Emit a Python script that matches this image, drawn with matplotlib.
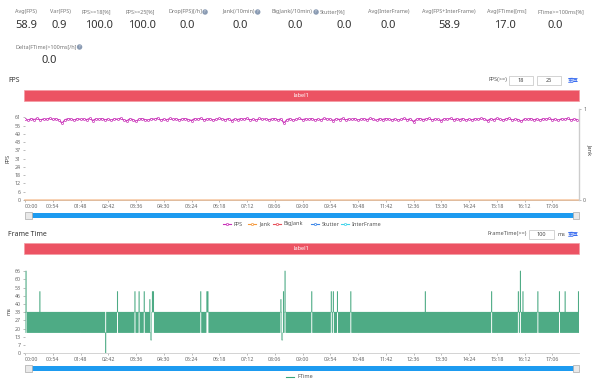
import numpy as np
import matplotlib.pyplot as plt
from matplotlib.patches import Rectangle
from matplotlib.lines import Line2D

plt.rcParams['font.family'] = ['Noto Sans', 'Noto Sans CJK SC', 'DejaVu Sans']

W, H = 600, 385

# summary numbers on top
stat_names = ["Avg(FPS)", "Var(FPS)", "FPS>=18[%]", "FPS>=25[%]", "Drop(FPS)[/h]",
              "Jank(/10min)", "BigJank(/10min)", "Stutter[%]", "Avg(InterFrame)",
              "Avg(FPS+InterFrame)", "Avg(FTime)[ms]", "FTime>=100ms[%]",
              "Delta(FTime)>100ms[/h]"]
stat_values = ["58.9", "0.9", "100.0", "100.0", "0.0", "0.0", "0.0", "0.0", "0.0",
               "58.9", "17.0", "0.0", "0.0"]
stat_help = [False, False, False, False, True, True, True, False, False,
             False, False, False, True]

# FPS, one reading every 6 s
fps_step = 6
fps_values = [
    59.6, 58.8, 59.9, 59.3, 60.1, 59.0, 59.7, 59.5, 60.2, 59.4,
    59.8, 59.1, 56.6, 59.2, 59.9, 59.6, 58.9, 60.0, 59.4, 59.7,
    59.2, 60.1, 58.6, 59.8, 59.5, 60.0, 59.1, 59.7, 58.7, 59.9,
    59.4, 60.2, 59.0, 58.3, 59.8, 59.3, 57.9, 59.6, 60.0, 59.2,
    58.8, 59.9, 59.5, 60.3, 58.9, 59.6, 59.1, 60.1, 59.4, 59.8,
    59.0, 59.7, 60.0, 59.3, 58.6, 59.9, 59.5, 60.2, 59.1, 59.6,
    59.8, 58.9, 59.4, 60.1, 59.6, 59.2, 60.0, 58.5, 59.7, 59.3,
    59.9, 59.5, 60.2, 59.0, 59.6, 58.8, 60.1, 59.4, 59.8, 59.2,
    59.6, 60.0, 59.1, 59.7, 56.8, 59.3, 59.9, 58.7, 59.5, 60.1,
    59.2, 59.8, 59.4, 60.0, 58.9, 59.6, 59.1, 60.2, 59.5, 59.7,
    58.6, 59.9, 59.3, 60.1, 59.0, 59.7, 59.4, 60.0, 58.8, 59.6,
    59.8, 59.2, 60.2, 59.5, 58.7, 59.9, 59.3, 60.0, 59.6, 59.1,
    59.7, 58.9, 59.4, 60.1, 59.2, 59.8, 57.8, 59.5, 60.0, 59.3,
    59.6, 60.2, 59.0, 59.7, 59.4, 58.6, 59.9, 59.5, 60.1, 59.2,
    59.8, 59.3, 60.0, 58.8, 59.6, 59.1, 59.9, 59.4, 60.2, 59.7,
    58.5, 59.8, 59.2, 60.1, 59.5, 59.0, 59.7, 60.3, 58.9, 59.6,
    59.3, 57.9, 59.8, 59.4, 60.0, 59.1, 59.7, 58.8, 59.9, 59.5,
    60.1, 59.2, 59.6, 58.7, 59.8, 59.4, 60.2, 59.0, 59.6, 59.3,
]

# no jank in this run
jank_times = [0, 1078]
jank_values = [0, 0]

duration = 1078      # seconds
tick_step = 54

# frame time: switches between two levels, plus a few spikes / dips
ft_step = 1.0
ft_levels = [16.7, 33.3]
ft_spike_t = [2, 29, 180, 214, 222, 232, 243, 248, 250, 342, 354, 356, 498, 503, 506,
              558, 596, 600, 608, 634, 779, 908, 960, 964, 969, 998, 1040, 1051, 1077]
ft_spike_v = [66.6, 50, 50, 50, 50, 50, 43.6, 50, 50, 50, 50, 50, 43.6, 50, 66.6,
              50, 50, 50, 50, 50, 50, 50, 50, 66.6, 50, 50, 50, 50, 50]
ft_dip_t = [157, 245, 500]
ft_dip_v = [0.3, 10.7, 10.7]
ft_dip_len = [1, 2, 2]


def fx(x):
    return x / W


def fy(y):
    return 1 - y / H


def ftext(x, y, s, **kw):
    kw.setdefault('va', 'center')
    return fig.text(fx(x), fy(y), s, **kw)


def frect(x0, y0, x1, y1, **kw):
    fig.add_artist(Rectangle((fx(x0), fy(y1)), (x1 - x0) / W, (y1 - y0) / H,
                             transform=fig.transFigure, **kw))


def fline(x0, x1, y, **kw):
    fig.add_artist(Line2D([fx(x0), fx(x1)], [fy(y), fy(y)], transform=fig.transFigure, **kw))


def mmss(s):
    s = int(round(s))
    return f"{s // 60:02d}:{s % 60:02d}"


fig = plt.figure(figsize=(6, 3.85), dpi=100)
renderer = fig.canvas.get_renderer()

# ---- stats ----
label_left = [15, 50, 82, 125, 168, 222, 272, 320, 368, 422, 487, 538, 15]
value_cx = [26, 59, 99, 142, 187.5, 240, 295, 344, 388.5, 449, 505, 555, 49.5]
row_y = [12, 12, 12, 12, 12, 12, 12, 12, 12, 12, 12, 12, 47]
for name, val, hlp, lx, vx, ry in zip(stat_names, stat_values, stat_help,
                                       label_left, value_cx, row_y):
    t = ftext(lx, ry, name, fontsize=3.9, color='#777')
    if hlp:
        w = t.get_window_extent(renderer).width
        ftext(lx + w + 3.2, ry, '?', fontsize=2.6, color='white', ha='center',
              bbox=dict(boxstyle='circle,pad=0.2', fc='#8a9bb3', ec='none'))
    ftext(vx, ry + 13.5, val, fontsize=8, color='#333', ha='center')

# ---- section titles / controls ----
ftext(8, 80, 'FPS', fontsize=5, color='#333')
ftext(507, 80, 'FPS(>=)', fontsize=4, color='#555', ha='right')
for (x0, x1), txt in zip([(509, 533), (537, 561)], ['18', '25']):
    frect(x0, 76, x1, 85, fc='white', ec='#ccc', lw=0.6)
    ftext((x0 + x1) / 2, 80.5, txt, fontsize=4, color='#444', ha='center')
ftext(573, 80, '重置', fontsize=4, color='#3a6df0', ha='center',
      family=['Noto Sans CJK SC', 'DejaVu Sans'])

ftext(8, 234, 'Frame Time', fontsize=5, color='#333')
ftext(527, 234, 'FrameTime(>=)', fontsize=4, color='#555', ha='right')
frect(529, 229.5, 554, 238.5, fc='white', ec='#ccc', lw=0.6)
ftext(541.5, 234, '100', fontsize=4, color='#444', ha='center')
ftext(558, 234, 'ms', fontsize=4, color='#555')
ftext(573, 234, '重置', fontsize=4, color='#3a6df0', ha='center',
      family=['Noto Sans CJK SC', 'DejaVu Sans'])

# red label bars
for y0, y1 in [(90, 100.7), (243, 254)]:
    frect(24, y0, 579, y1, fc='#ec5363', ec='#f49aa3', lw=0.5)
    ftext(301, (y0 + y1) / 2, 'label1', fontsize=4, color='white', ha='center')

# sliders
for y0, y1 in [(212, 218), (365, 371)]:
    frect(28, y0 + 0.5, 576, y1 - 0.5, fc='#1d9bf0', ec='none')
    frect(25, y0 - 0.5, 31.5, y1 + 0.5, fc='#e9e9e9', ec='#aaa', lw=0.5)
    frect(572.5, y0 - 0.5, 579, y1 + 0.5, fc='#e9e9e9', ec='#aaa', lw=0.5)

xt = list(range(0, duration, tick_step))
xl = [mmss(v) for v in xt]


def style(ax, ystep):
    ax.set_xlim(0, duration)
    ax.set_ylim(0, ystep * 11)
    yt = [k * ystep for k in range(11)]
    ax.set_yticks(yt)
    ax.set_yticklabels([str(int(np.floor(v + 0.5 + 1e-9))) for v in yt])
    ax.set_xticks(xt)
    ax.set_xticklabels(xl)
    ax.get_xticklabels()[0].set_ha('left')
    for s in ['top', 'left', 'right']:
        ax.spines[s].set_visible(False)
    ax.spines['bottom'].set_color('#ccc')
    ax.spines['bottom'].set_linewidth(0.6)
    ax.tick_params(labelsize=3.8, colors='#888', labelcolor='#666',
                   length=1.5, width=0.4, pad=1.5)


# ---- FPS chart ----
ax1 = fig.add_axes([fx(25), fy(200), (579 - 25) / W, (200 - 109) / H])
fps_t = np.arange(len(fps_values)) * fps_step
ax1.plot(fps_t, fps_values, color='#c930b8', lw=0.9, marker='o', ms=1.5,
         mew=0.5, mfc='white', zorder=3)
style(ax1, 6.1)
axr = ax1.twinx()
axr.plot(jank_times, jank_values, color='#f0a060', lw=1.2, alpha=0.55, clip_on=False)
axr.set_ylim(0, 1)
axr.set_yticks([0, 1])
for s in ['top', 'left', 'bottom']:
    axr.spines[s].set_visible(False)
axr.spines['right'].set_color('#ccc')
axr.spines['right'].set_linewidth(1.0)
axr.tick_params(labelsize=3.8, colors='#888', labelcolor='#666', length=1.5, width=0.4, pad=1.5)
ftext(8, 158, 'FPS', fontsize=4, color='#444', rotation=90, ha='center')
ftext(590, 150, 'Jank', fontsize=4, color='#444', rotation=270, ha='center')

# legend
leg = [('FPS', '#c930b8', 227), ('Jank', '#f5993c', 252), ('BigJank', '#e8505b', 277),
       ('Stutter', '#3c86e8', 315), ('InterFrame', '#3fd3ea', 345)]
for name, c, x in leg:
    fline(x - 4, x + 4, 224, color=c, lw=0.8)
    fig.add_artist(Line2D([fx(x)], [fy(224)], transform=fig.transFigure, marker='o',
                          ms=1.6, color=c, mfc='white', mew=0.5))
    ftext(x + 7, 224, name, fontsize=4, color='#555')

# ---- Frame time chart ----
ax2 = fig.add_axes([fx(25), fy(353.3), (579 - 25) / W, (353.3 - 263) / H])
ft_t = np.arange(0, duration + ft_step, ft_step)
ft_v = np.array([ft_levels[i % 2] for i in range(len(ft_t))])
for t, v in zip(ft_spike_t, ft_spike_v):
    ft_v[min(int(round(t / ft_step)), len(ft_v) - 1)] = v
for t, v, n in zip(ft_dip_t, ft_dip_v, ft_dip_len):
    i = int(round(t / ft_step))
    ft_v[i:i + n] = v
ax2.plot(ft_t, ft_v, color='#2f9d70', lw=0.4, alpha=0.85, drawstyle='steps-mid')
style(ax2, 6.64)
ftext(9, 311, 'ms', fontsize=4, color='#444', rotation=90, ha='center')

fline(286, 294, 377, color='#3aa57b', lw=0.8)
ftext(297, 377, 'FTime', fontsize=4, color='#555')

fig.savefig('out.png', dpi=100)
